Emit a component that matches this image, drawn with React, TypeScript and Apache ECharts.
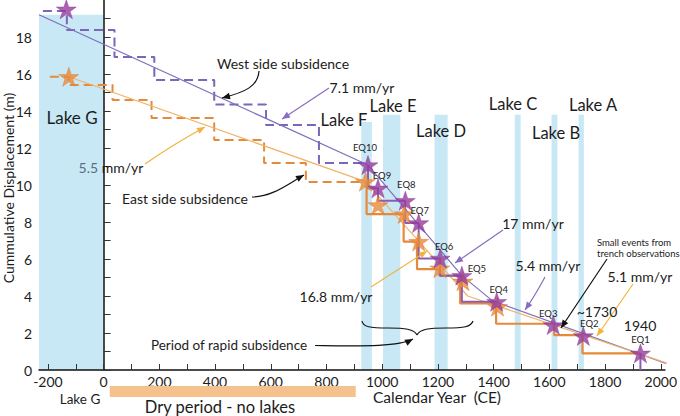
import React, { useEffect, useRef } from "react";
import * as echarts from "echarts";

const FONT = "Lato, 'Noto Sans', sans-serif";

// ---- data ----
const westEqNames = ["", "EQ10", "EQ9", "EQ8", "EQ7", "EQ6", "EQ5", "EQ4", "EQ3", "EQ2", "EQ1"];
const westEqYears = [-134, 949, 985, 1083, 1131, 1208, 1286, 1411, 1614, 1722, 1927];
const westEqValues = [19.5, 11.08, 9.82, 9.15, 7.95, 6.03, 5.1, 3.69, 2.43, 1.84, 0.9];

const eastEqYears = [-125, 940, 985, 1079, 1131, 1207, 1290, 1414];
const eastEqValues = [15.85, 10.18, 8.92, 8.43, 6.94, 5.5, 4.8, 3.42];

const westTrendYears = [-232, 949, 1286, 1395, 2018];
const westTrendValues = [19.2, 11.08, 5.1, 3.75, 0.36];
const eastTrendYears = [-125, 940, 1307, 2026];
const eastTrendValues = [15.85, 10.18, 4.0, 0.35];

const westDashYears = [-218, -132, -132, 39, 39, 182, 182, 397, 397, 583, 583, 773, 773, 945];
const westDashValues = [19.4, 19.4, 18.38, 18.38, 16.92, 16.92, 15.68, 15.68, 14.35, 14.35, 13.24, 13.24, 11.19, 11.19];
const eastDashYears = [-193, -125, -125, 32, 32, 172, 172, 397, 397, 576, 576, 726, 726, 940];
const eastDashValues = [15.85, 15.85, 15.41, 15.41, 14.59, 14.59, 13.62, 13.62, 12.43, 12.43, 11.19, 11.19, 10.16, 10.16];

const westStepYears = [949, 949, 985, 985, 1083, 1083, 1131, 1131, 1208, 1208, 1286, 1286, 1411];
const westStepValues = [11.08, 9.82, 9.82, 9.15, 9.15, 7.95, 7.95, 6.03, 6.03, 5.1, 5.1, 3.69, 3.69];
const eastStepYears = [944, 944, 1077, 1077, 1125, 1125, 1205, 1205, 1280, 1280, 1409, 1409, 1617, 1617, 1719, 1719, 1927];
const eastStepValues = [10.18, 8.43, 8.43, 6.94, 6.94, 5.45, 5.45, 5.1, 5.1, 3.6, 3.6, 2.5, 2.5, 1.89, 1.89, 0.9, 0.9];
const lastDropYears = [1927, 1927];
const lastDropValues = [0.9, 0];

const lakeNames = ["Lake G", "Lake F", "Lake E", "Lake D", "Lake C", "Lake B", "Lake A"];
const lakeStart = [-232, 925, 1003, 1188, 1476, 1608, 1705];
const lakeEnd = [0, 963, 1065, 1235, 1497, 1629, 1724];
const lakeTop = [19.2, 13.4, 13.8, 13.8, 13.8, 13.8, 13.8];

const xTickValues = [-200, -100, 0, 100, 200, 300, 400, 500, 600, 700, 800, 900, 1000, 1100, 1200, 1300, 1400, 1500, 1600, 1700, 1800, 1900, 2000];
const xLabelValues = [-200, 0, 200, 400, 600, 800, 1000, 1200, 1400, 1600, 1800, 2000];
const yTickValues = [0, 1, 2, 3, 4, 5, 6, 7, 8, 9, 10, 11, 12, 13, 14, 15, 16, 17, 18, 19];
const yLabelValues = [0, 2, 4, 6, 8, 10, 12, 14, 16, 18];

// ---- layout / style (not data) ----
const lakeLabelPos: [number, number][] = [[72, 117], [344, 120], [393, 106], [441, 131], [513, 104], [556, 133], [593, 105]];
const eqDx = [0, -3, 4, 1, 1, 4, 15, 2, -5, 6, 0];
const eqDy = [0, -18, -13, -16, -12, -12, -7, -12, -12, -12, -14];

const PURPLE_STAR = "#963c9e";
const ORANGE_STAR = "#ea8a3a";
const STAR = "path://M50,0 L61.8,35.1 L98.9,35.1 L68.8,56.8 L80.3,91.9 L50,70.2 L19.7,91.9 L31.2,56.8 L1.1,35.1 L38.2,35.1 Z";

const zip = (xs: number[], ys: number[]) => xs.map((x, i) => [x, ys[i]]);

function head(tip: number[], from: number[], color: string, size = 8) {
  const dx = tip[0] - from[0], dy = tip[1] - from[1];
  const len = Math.hypot(dx, dy) || 1;
  const ux = dx / len, uy = dy / len;
  const bx = tip[0] - ux * size, by = tip[1] - uy * size;
  const px = -uy * size * 0.42, py = ux * size * 0.42;
  return {
    type: "polygon", z: 100, silent: true,
    shape: { points: [tip, [bx + px, by + py], [bx - px, by - py]] },
    style: { fill: color },
  };
}
function straightArrow(from: number[], tip: number[], color: string, w = 1.2) {
  return [
    { type: "line", z: 100, silent: true, shape: { x1: from[0], y1: from[1], x2: tip[0], y2: tip[1] }, style: { stroke: color, lineWidth: w } },
    head(tip, from, color),
  ];
}
function curveArrow(from: number[], c1: number[], c2: number[], tip: number[], color: string, w = 1.2) {
  return [
    { type: "bezierCurve", z: 100, silent: true, shape: { x1: from[0], y1: from[1], cpx1: c1[0], cpy1: c1[1], cpx2: c2[0], cpy2: c2[1], x2: tip[0], y2: tip[1] }, style: { stroke: color, lineWidth: w, fill: "none" } },
    head(tip, c2, color),
  ];
}
function txt(text: string, x: number, y: number, size: number, extra: any = {}) {
  return {
    type: "text", z: 110, silent: true, x, y,
    style: { text, fill: "#1c1c1c", fontSize: size, fontFamily: FONT, align: "center", verticalAlign: "middle", ...extra },
  };
}

export default function App() {
  const ref = useRef<HTMLDivElement>(null);
  useEffect(() => {
    if (!ref.current) return;
    const chart = echarts.init(ref.current, null, { renderer: "svg" });
    const lakeData = lakeNames.map((n, i) => [lakeStart[i], lakeEnd[i], lakeTop[i]]);
    chart.setOption({
      animation: false,
      backgroundColor: "#ffffff",
      grid: { left: 39, right: 13, top: 0, bottom: 46, containLabel: false },
      xAxis: {
        type: "value", min: -232, max: 2015,
        axisLine: { show: true, lineStyle: { color: "#111", width: 1.5 } },
        axisTick: { show: true, inside: true, length: 6, customValues: xTickValues, lineStyle: { color: "#333", width: 1 } },
        axisLabel: { customValues: xLabelValues, formatter: (v: number) => String(v), color: "#1c1c1c", fontSize: 14, fontFamily: FONT, margin: 4 },
        splitLine: { show: false },
      },
      yAxis: {
        type: "value", min: 0, max: 20,
        axisLine: { show: true, lineStyle: { color: "#111", width: 1.5 } },
        axisTick: { show: true, inside: true, length: 7, customValues: yTickValues, lineStyle: { color: "#333", width: 1 } },
        axisLabel: { customValues: yLabelValues, formatter: (v: number) => String(v), color: "#1c1c1c", fontSize: 14, fontFamily: FONT, margin: 7 },
        splitLine: { show: false },
      },
      series: [
        {
          type: "custom", z: 0, silent: true,
          data: lakeData,
          encode: { x: [0, 1], y: 2 },
          renderItem: (params: any, api: any) => {
            const p0 = api.coord([api.value(0), api.value(2)]);
            const p1 = api.coord([api.value(1), 0]);
            return { type: "rect", shape: { x: p0[0], y: p0[1], width: p1[0] - p0[0], height: p1[1] - p0[1] }, style: { fill: "#c8e8f6" } };
          },
        },
        { name: "West dashed", type: "line", z: 2, symbol: "none", data: zip(westDashYears, westDashValues), lineStyle: { color: "#7b66b9", width: 2, type: [9, 5] } },
        { name: "East dashed", type: "line", z: 2, symbol: "none", data: zip(eastDashYears, eastDashValues), lineStyle: { color: "#e38b3a", width: 2, type: [9, 5] } },
        { name: "West trend", type: "line", z: 3, symbol: "none", clip: false, data: zip(westTrendYears, westTrendValues), lineStyle: { color: "#7f70bd", width: 1.2 } },
        { name: "East trend", type: "line", z: 3, symbol: "none", clip: false, data: zip(eastTrendYears, eastTrendValues), lineStyle: { color: "#f0b46a", width: 1.2 } },
        { name: "East steps", type: "line", z: 4, symbol: "none", data: zip(eastStepYears, eastStepValues), lineStyle: { color: "#e8893a", width: 2.2 } },
        { name: "West steps", type: "line", z: 4, symbol: "none", data: zip(westStepYears, westStepValues), lineStyle: { color: "#8a5cb5", width: 2 } },
        { name: "Last drop", type: "line", z: 4, symbol: "none", data: zip(lastDropYears, lastDropValues), lineStyle: { color: "#8a5cb5", width: 2 } },
        { name: "East EQ", type: "scatter", z: 5, symbol: STAR, symbolSize: [20, 19], data: zip(eastEqYears, eastEqValues), itemStyle: { color: ORANGE_STAR, borderColor: "#d9772c", borderWidth: 0.5 } },
        { name: "West EQ", type: "scatter", z: 6, symbol: STAR, symbolSize: [20, 19], data: zip(westEqYears, westEqValues), itemStyle: { color: PURPLE_STAR, borderColor: "#82318c", borderWidth: 0.5 } },
      ],
    });

    const g: any[] = [];
    lakeNames.forEach((n, i) => g.push(txt(n, lakeLabelPos[i][0], lakeLabelPos[i][1], i === 0 ? 17 : 16.5)));
    westEqNames.forEach((n, i) => {
      if (!n) return;
      const p = chart.convertToPixel({ gridIndex: 0 }, [westEqYears[i], westEqValues[i]]) as number[];
      g.push(txt(n, p[0] + eqDx[i], p[1] + eqDy[i], 9.5));
    });
    g.push(txt("West side subsidence", 283, 63, 14));
    g.push(...curveArrow([259, 71], [258, 86], [246, 92], [222, 98], "#111"));
    g.push(txt("7.1 mm/yr", 362, 87, 14));
    g.push(...straightArrow([329, 88], [282, 119], "#8a6cc0"));
    g.push(txt("{a|5.5} mm/yr", 111, 167, 14, { rich: { a: { fill: "#5c6f80", fontSize: 14, fontFamily: FONT } } }));
    g.push(...curveArrow([145, 164], [165, 150], [185, 138], [205, 127], "#f2b440"));
    g.push(txt("East side subsidence", 185, 198, 14));
    g.push(...curveArrow([252, 197], [272, 197], [288, 184], [304, 175], "#111"));
    g.push(txt("17 mm/yr", 533, 223, 14));
    g.push(...straightArrow([503, 230], [455, 263], "#8a6cc0"));
    g.push(txt("5.4 mm/yr", 548, 265, 14));
    g.push(...curveArrow([545, 277], [538, 290], [532, 300], [525, 310], "#8a6cc0"));
    g.push(txt("16.8 mm/yr", 336, 296, 14));
    g.push(...straightArrow([371, 287], [427, 251], "#f2b440"));
    g.push(txt("Small events from", 597, 242, 9.5, { align: "left" }));
    g.push(txt("trench observations", 597, 253, 9.5, { align: "left" }));
    g.push(...straightArrow([607, 259], [561, 328], "#111"));
    g.push(txt("5.1 mm/yr", 640, 276, 14));
    g.push(...straightArrow([633, 284], [597, 336], "#f2b440"));
    g.push(txt("~1730", 597, 311, 14));
    g.push(txt("1940", 640, 325, 14));
    g.push(txt("Period of rapid subsidence", 229, 345, 13.5));
    const brace = [
      [[362, 321], [363, 327], [370, 328], [388, 328]],
      [[388, 328], [405, 328], [414, 329], [417, 335]],
      [[417, 335], [420, 329], [429, 328], [446, 328]],
      [[446, 328], [464, 328], [471, 327], [473, 321]],
    ];
    brace.forEach((b) => g.push({ type: "bezierCurve", z: 100, silent: true, shape: { x1: b[0][0], y1: b[0][1], cpx1: b[1][0], cpy1: b[1][1], cpx2: b[2][0], cpy2: b[2][1], x2: b[3][0], y2: b[3][1] }, style: { stroke: "#111", lineWidth: 1.2, fill: "none" } }));
    g.push(...curveArrow([315, 345.5], [360, 346], [398, 347], [413, 339], "#111"));
    const d0 = chart.convertToPixel({ gridIndex: 0 }, [22, 0]) as number[];
    const d1 = chart.convertToPixel({ gridIndex: 0 }, [905, 0]) as number[];
    g.push({ type: "rect", z: 90, silent: true, shape: { x: d0[0], y: 386, width: d1[0] - d0[0], height: 11 }, style: { fill: "#f5c18c" } });
    g.push(txt("Dry period - no lakes", 220, 407, 16.5));
    g.push(txt("Lake G", 80, 399, 13.5));
    g.push(txt("Calendar Year  (CE)", 437, 397, 15.5));
    g.push({ ...txt("Cummulative Displacement (m)", 8, 188, 14), rotation: Math.PI / 2 });

    chart.setOption({ graphic: g });
    return () => chart.dispose();
  }, []);
  return <div ref={ref} style={{ position: "absolute", left: 0, top: 0, width: 680, height: 416 }} />;
}
